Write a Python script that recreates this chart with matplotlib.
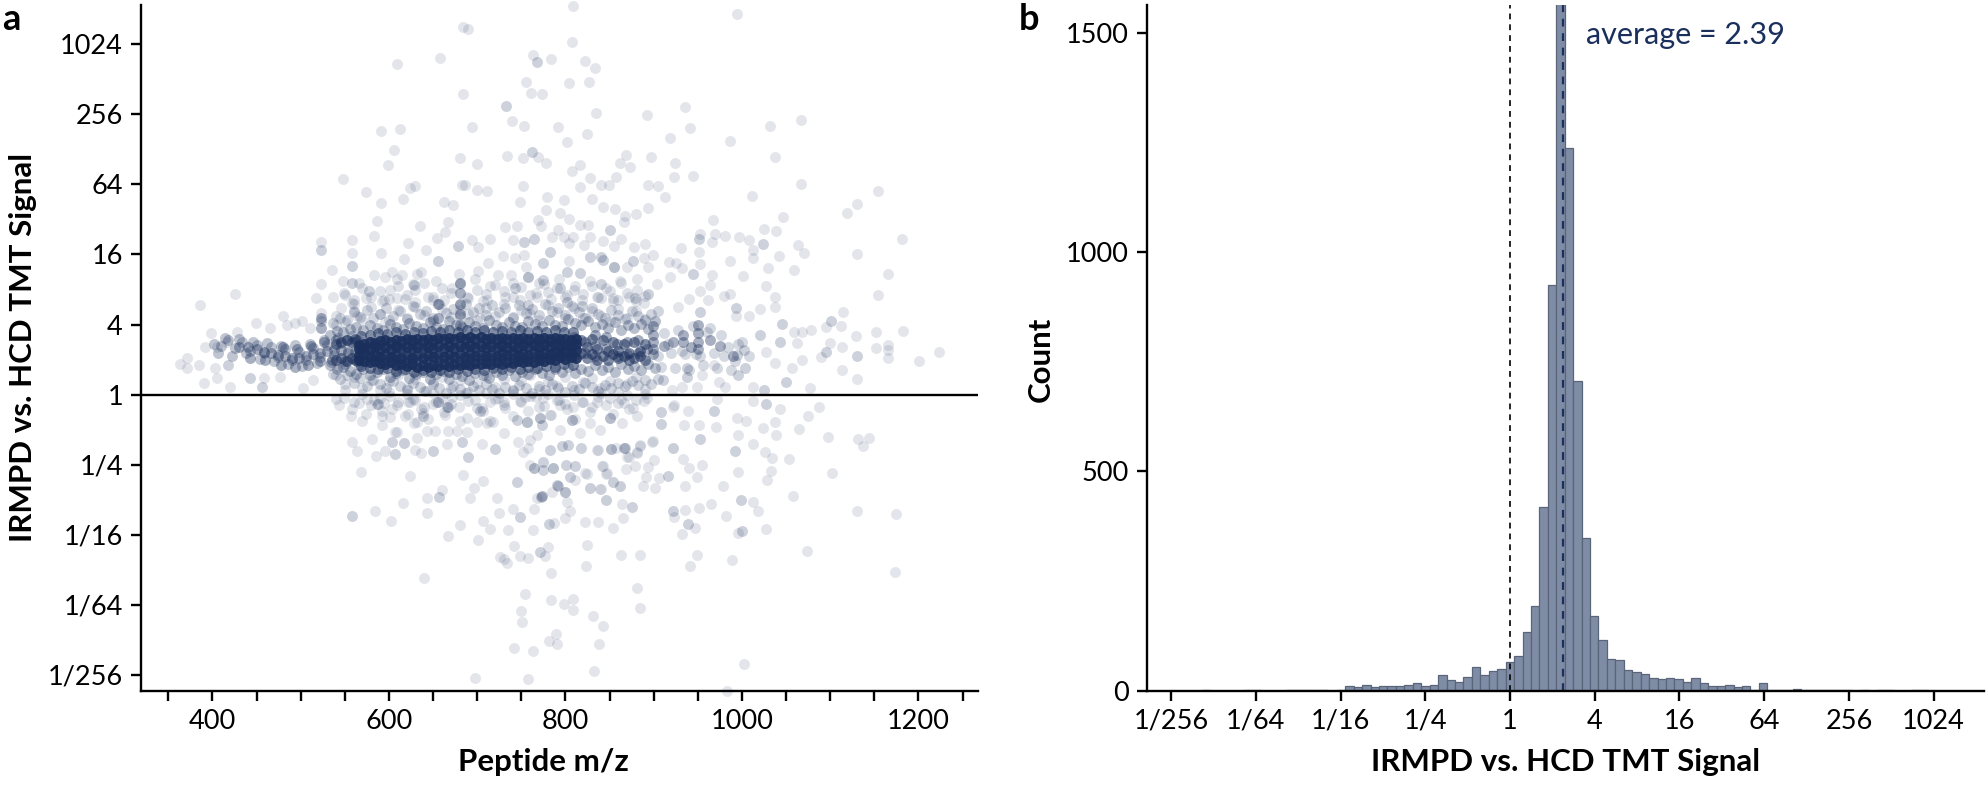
import numpy as np
import matplotlib
matplotlib.use("Agg")
import matplotlib.pyplot as plt

plt.rcParams['font.family'] = ['Lato', 'DejaVu Sans']

navy = '#1a2f5c'

# panel a - single points (m/z, log2 ratio)
top_mz = [684,690,609,658,684,694,591,612,606,599,680,700,548,683,686,630,624,574,591,616,700,711,662,672,587,667,635,583,664,654,558,523,622,694,642,714,701,558,591,617,536,596,615,632,603,548,523,701,712,425,386,517,537]
top_log2 = [10.5,10.44,9.44,9.62,8.59,7.64,7.52,7.58,6.97,6.54,6.74,6.57,6.14,5.98,5.98,5.96,5.89,5.77,5.46,5.57,5.84,5.82,5.51,5.41,4.95,4.94,4.81,4.52,4.63,4.47,4.41,4.37,4.34,4.42,4.13,4.43,4.21,4.03,4.03,3.86,3.55,3.37,3.41,3.44,3.49,3.24,3.17,3.54,3.75,2.87,2.55,2.77,2.78]

right_mz = [808,994,807,763,784,822,834,755,804,827,761,773,835,892,936,739,753,791,824,802,919,941,987,1032,1067,1037,734,752,769,778,869,862,873,897,924,817,807,857,828,923,944,817,840,849,752,893,905,913,1067,1011,1154,1130,1119,1047,779,798,830,748,842,856,894,778,794,880,867,866,967,769,804,817,826,772,745,732,1025,1039,953,970,981,997,1008,1064,1070,1181,791,785,741,798,808,828,842,863,890,878,931,966,1013,1013,1042,1130,1166,1154,899,889,855,821,804,753,755,743,729,804,870,855,894,917,925,932,953,951,987,1030,1059,1001,1027,1037,1038,987,980,966,918,881,862,738,904,964,953,854,836,768,940,962,927,993,1020,1008,1115,1095,1112,1059,1068,1078,1152,1183,1129,1113,1100,1090,1062,1152,1165,1165,1166,1223,1201,1068,1057,1038,1027,1113,1130,1077,1013,974,981,968,955,949,932,921]
right_log2 = [11.08,10.85,10.06,9.7,9.57,9.52,9.31,8.91,8.88,8.93,8.62,8.58,8.05,7.97,8.2,7.81,7.68,7.65,7.45,7.21,7.32,7.61,7.25,7.66,7.84,6.79,6.82,6.76,6.77,6.6,6.85,6.6,6.49,6.78,6.61,6.56,6.38,6.2,6.19,6.21,6.23,5.92,5.98,5.98,5.94,5.98,5.96,5.65,6.0,5.66,5.82,5.45,5.18,5.08,5.63,5.56,5.59,5.49,5.36,5.3,5.34,5.27,5.18,5.16,5.1,4.94,4.97,4.99,5.0,4.84,4.85,4.81,4.8,4.78,4.74,4.68,4.59,4.58,4.54,4.51,4.41,4.27,4.04,4.44,4.7,4.51,4.4,4.49,4.51,4.49,4.39,4.43,4.3,4.22,4.18,4.35,4.13,3.89,3.97,4.01,3.45,2.83,3.98,3.89,4.25,4.27,4.32,3.99,3.65,3.89,3.97,3.8,3.65,3.65,3.63,3.78,3.75,3.61,3.72,4.08,3.82,3.62,3.57,3.39,3.11,2.8,2.49,2.87,2.82,3.4,3.37,3.3,3.23,3.42,3.15,3.13,2.96,2.75,2.8,2.8,2.73,2.7,2.51,2.23,2.45,2.23,2.35,1.94,1.97,1.8,1.8,1.85,1.78,1.82,1.66,1.35,1.48,1.06,1.48,1.34,1.42,1.26,1.04,1.23,0.96,0.99,0.77,0.91,1.23,0.7,0.45,0.18,0.23,0.37,0.23,0.85,0.56,0.23,0.23,0.13]

left_mz = [560,546,594,609,630,523,480,449,501,564,596,650,711,650,681,703,484,494,511,465,428,398,392,363,371,371,385,390,403,405,420,405,416,477,503,514,543,458,543,557,570,558,564,581,568,624,585,596,630,636,617,632,666,705,684,707,696,660,643,692,722,616,643,584,602,680,667,706,714,701,725,726,640,698]
left_log2 = [2.59,2.47,2.7,2.75,2.63,2.32,2.23,2.04,2.11,2.23,2.08,2.7,2.7,2.13,2.42,2.18,1.99,2.04,1.89,1.89,1.8,1.75,1.37,0.88,1.04,0.77,0.85,0.32,0.75,0.47,0.23,1.37,1.51,0.51,0.18,0.42,0.8,0.47,-0.29,-0.6,-0.76,-1.36,-1.62,-1.28,-2.22,-2.31,-1.76,-1.6,-1.58,-1.67,-1.38,-1.25,-1.41,-1.41,-2.29,-2.47,-2.67,-2.71,-2.96,-2.96,-2.95,-3.1,-3.38,-3.33,-3.61,-3.72,-4.04,-3.62,-3.83,-4.15,-3.38,-4.64,-5.22,-8.1]

low_mz = [923,939,972,971,934,951,994,1005,1013,1043,1037,1024,1039,1065,1075,1087,996,1012,1026,1034,1053,1098,1131,1144,1137,1102,1033,1028,995,955,933,940,922,899,885,857,837,881,872,900,894,879,869,891,906,902,888,936,949,979,965,951,936,923,982,1012,1018,1058,1027,995,947,932,1130,1175,1074,989,949,941,1174,881,884,884,863,824,823,865,864,846,862,854,840,828,824,842,846,837,854,822,799,787,805,764,802,741,763,735,742,749,757,730,734,777,780,784,754,750,751,784,798,809,808,831,843,789,781,790,838,742,763,832,758,1002,983]
low_log2 = [-0.31,-0.46,-0.12,-0.93,-0.88,-0.87,-0.67,-0.74,-0.17,-0.41,-0.79,-0.96,-1.15,-0.98,-0.6,-0.36,-1.15,-1.41,-1.65,-1.81,-1.83,-1.22,-1.27,-1.23,-1.48,-2.25,-2.19,-2.43,-2.22,-2.01,-1.84,-2.09,-1.53,-1.33,-1.46,-1.53,-1.57,-1.65,-1.79,-1.86,-2.07,-2.05,-2.12,-2.36,-2.39,-2.67,-2.6,-2.6,-2.36,-2.62,-3.12,-3.24,-3.28,-3.5,-3.45,-3.07,-3.33,-2.88,-3.83,-3.96,-3.81,-3.98,-3.32,-3.41,-4.45,-4.71,-4.58,-4.9,-5.07,-5.52,-6.09,-4.57,-4.57,-4.3,-4.88,-3.53,-3.12,-3.01,-2.6,-2.5,-2.69,-2.66,-2.26,-2.03,-2.26,-3.64,-3.82,-3.64,-3.53,-3.67,-3.31,-3.26,-3.07,-3.26,-3.85,-3.87,-4.31,-4.6,-4.66,-4.69,-4.81,-4.61,-4.36,-5.1,-5.69,-6.17,-6.48,-5.85,-5.98,-5.83,-6.15,-6.32,-6.6,-6.83,-7.04,-7.12,-7.12,-7.24,-7.33,-7.88,-8.13,-7.7,-8.45]

near_mz = [575,586,592,601,609,603,622,632,643,652,681,667,700,718,715,677,688,622,650,594,592,607,617,746,752,758,764,760,786,760,800,811,773,785,768,836,822,841,847,854,862,828,839,846,852,881,885,898,922,870,624,639,656,664,705,730,756,771,754,775,794,809,783,807,828,836,851,866,864,877,892,922,768,794,839,817,730,711,628]
near_log2 = [-0.12,-0.27,-0.6,-0.65,-1.08,-0.41,-0.22,-0.79,-1.03,-1.03,-0.74,-1.03,-0.79,-0.79,-0.22,-1.03,-1.08,-0.55,-0.27,-0.25,-0.87,-1.06,-1.37,-1.34,-1.63,-1.53,-2.1,-2.01,-2.1,-1.3,-2.77,-2.45,-2.89,-2.77,-2.96,-1.58,-2.25,-2.04,-2.25,-2.48,-2.61,-2.67,-2.7,-3.01,-1.56,-1.67,-1.44,-1.34,-1.53,-1.77,-0.2,-0.53,-0.2,-0.58,-0.39,-0.2,-0.77,-0.67,-0.06,-0.1,-0.29,-0.34,-0.58,-0.72,-0.82,-0.2,-0.67,-0.25,-0.82,-0.39,-0.1,-0.34,-1.15,-1.01,-1.01,-1.1,-1.1,-0.82,-0.82]

# places where several points sit on top of each other, drawn darker
clump_mz = [768,733,762,851,951,1024,764,753,783,774,840,828,843,877,855,945,840,817,802,775,757,894,879,819,802,794,743,758,953,993,1101,1045,1021,1095,1043,1130,1050,1025,1004,996,994,1002,938,938,911,908,908,968,1027,953,992,922,866,875,781,772,791,799,749,771,999,1000,939,916,523,523,678,558,558,655,577,628,418,442,456,607,650,683,690,720,558,657,604,588,639,666,703,775,764,786,775,783,796,803,818,801,811,805,790,773,852,868,745,667,656,745,756,771,773,851,807]
clump_log2 = [9.49,8.23,6.93,4.69,4.45,4.29,4.45,4.37,4.08,3.75,3.94,3.94,3.84,3.8,3.65,3.44,3.16,3.46,3.51,3.27,3.37,2.87,2.75,2.53,2.65,3.04,3.04,2.56,2.37,2.46,2.11,2.02,1.7,1.23,1.51,1.09,0.36,0.13,0.75,0.56,1.13,1.28,0.75,0.51,0.42,-0.49,-0.84,-0.46,-0.27,-1.27,-1.6,-3.31,-1.53,-3.22,-3.69,-2.91,-2.6,-2.79,-3.5,-4.5,-3.0,-3.9,-3.69,-2.33,4.13,2.11,4.24,3.67,3.18,3.8,2.96,3.13,0.85,0.47,0.23,-1.7,-1.6,-1.34,-1.79,-1.55,-3.45,-2.91,-1.36,-0.27,-0.6,-0.36,-0.46,-2.15,-2.1,-2.1,-1.91,-1.58,-1.48,-1.44,-1.53,-2.01,-2.05,-2.34,-2.58,-2.89,-1.56,-1.53,-2.48,-0.34,-0.2,-0.72,-0.77,-0.67,-0.87,-0.67,-0.72]

# dense part of the cloud, estimated from how dark it is at each m/z
haze_mz = [540,550,560,570,580,590,600,610,620,630,640,650,660,670,680,690,700,710,720,730,740,750,760,770,780,790,800,810,820,830,840,850,860,870,880,890]
haze_a = [2.25,2.08,2.4,2.15,2.5,2.3,2.12,2.42,2.2,2.5,2.28,2.1,2.45,2.22,2.55,2.3,2.12,2.48,2.25,2.6,2.18,2.42,2.3,2.12,2.55,2.35,2.2,2.48,2.18,2.4,2.25,2.1,2.45,2.2,2.38,2.15]
haze_b = [1.98,2.85,2.7,3.05,2.8,2.95,2.72,3.1,2.85,2.98,3.2,2.8,3.05,2.9,3.15,2.75,3.0,2.88,3.12,2.95,2.78,3.08,2.85,3.18,2.92,3.05,2.78,3.0,2.86,3.1,2.75,2.95,2.7,2.9,2.68,2.82]
haze_c = [0.55,0.3,0.5,0.2,0.42,0.12,0.38,0.55,0.2,0.45,0.1,0.35,0.5,0.18,0.42,0.08,0.32,0.52,0.22,0.45,0.1,0.38,0.55,0.15,0.4,0.25,0.5,0.12,0.35,0.48,0.2,0.4,0.08,0.3,0.5,0.15]
haze_d = [-0.12,0.12,-0.2,0.02,-0.3,-0.1,0.08,-0.22,0.02,-0.15,-0.35,0.05,-0.1,-0.28,0.0,-0.18,-0.38,0.05,-0.12,-0.3,0.02,-0.22,-0.05,-0.35,0.03,-0.15,-0.28,0.0,-0.2,-0.35,0.04,-0.1,-0.25,0.0,-0.15,0.02]

soft_mz = [533,541,548,556,563,571,578,586,593,601,608,616,623,631,638,646,653,661,668,676,683,691,698,706,713,721,728,736,743,751,758,766,773,781,788,796,803,811,818,826,833,841,848,856,863,871,878,886,893,901]
soft_up = [1.7,1.82,1.78,1.88,1.92,1.85,1.98,1.9,1.84,2.02,1.93,1.87,2.05,1.96,1.9,2.08,1.94,1.88,2.1,2.0,1.92,2.06,1.95,1.9,2.12,2.0,1.94,2.08,1.97,1.92,2.1,2.02,1.95,2.12,2.0,1.96,2.15,2.05,1.98,2.1,1.92,2.02,1.9,2.06,1.85,1.98,1.9,2.02,1.88,2.1]
soft_dn = [0.85,0.72,0.8,0.68,0.6,0.74,0.56,0.66,0.72,0.5,0.62,0.7,0.48,0.6,0.66,0.44,0.58,0.68,0.46,0.6,0.52,0.42,0.62,0.55,0.48,0.64,0.56,0.7,0.52,0.66,0.6,0.74,0.62,0.55,0.72,0.65,0.8,0.62,0.74,0.68,0.84,0.7,0.78,0.66,0.86,0.74,0.82,0.7,0.88,0.76]
soft2_mz = [537,545,552,560,567,575,582,590,597,605,612,620,627,635,642,650,657,665,672,680,687,695,702,710,717,725,732,740,747,755,762,770,777,785,792,800,807,815,822,830,837,845,852,860,867,875,882,890,897,905]
soft2_up = [2.05,2.2,2.12,2.35,2.22,2.42,2.18,2.3,2.48,2.25,2.38,2.16,2.52,2.3,2.4,2.2,2.58,2.32,2.45,2.24,2.6,2.35,2.46,2.26,2.55,2.36,2.48,2.22,2.56,2.34,2.44,2.26,2.6,2.38,2.48,2.28,2.52,2.36,2.2,2.46,2.3,2.18,2.42,2.28,2.16,2.38,2.24,2.12,2.3,2.4]
soft2_dn = [0.6,0.45,0.55,0.34,0.48,0.25,0.42,0.3,0.18,0.38,0.26,0.14,0.34,0.22,0.1,0.3,0.2,0.06,0.26,0.16,0.04,0.24,0.12,0.3,0.16,0.05,0.22,0.12,0.28,0.18,0.06,0.24,0.14,0.3,0.2,0.08,0.26,0.16,0.32,0.22,0.1,0.28,0.18,0.34,0.24,0.38,0.28,0.42,0.3,0.46]
soft3_mz = [549,558,566,574,583,592,601,609,618,627,636,644,653,662,671,679,688,697,706,714,723,732,741,749,758,767,776,784,793,802,811,819,828,837,846,854,863,872,881,889]
soft3_up = [2.9,2.62,3.2,2.75,3.4,2.68,3.0,3.3,2.72,3.15,3.5,2.8,3.25,2.7,3.05,3.45,2.78,3.3,2.66,3.1,3.4,2.8,3.2,2.7,3.35,2.9,3.15,2.72,3.3,2.85,3.1,2.7,3.25,2.8,3.05,2.66,3.2,2.78,3.0,2.62]
soft3_dn = [-0.1,-0.4,-0.25,-0.55,-0.15,-0.48,-0.05,-0.3,-0.62,-0.12,-0.42,-0.7,-0.2,-0.5,-0.08,-0.36,-0.66,-0.16,-0.46,-0.75,-0.1,-0.38,-0.6,-0.18,-0.48,-0.08,-0.32,-0.58,-0.14,-0.42,-0.7,-0.2,-0.5,-0.08,-0.3,-0.56,-0.12,-0.4,-0.62,-0.18]

mid_mz = [430,440,450,458,466,474,482,490,498,506,514,522,530,538,546,554,562,442,460,478,494,508,522,536,550,564,480,496,512,526,540,552,564,810,810,810,822,822,834,834,834,846,846,858,858,870,870,882,882,892,899,899,899,899,899,912,922,933,933,942,950,950,950,950,964,975,990,681,681,681,681,681,655,655,523,523]
mid_log2 = [1.35,1.35,1.3,1.22,1.18,1.12,1.1,1.05,1.05,1.1,1.15,1.2,1.25,1.27,1.27,1.25,1.22,1.05,1.0,0.85,0.8,0.85,0.95,1.0,0.95,0.95,1.35,1.3,1.4,1.5,1.55,1.55,1.55,1.1,1.4,1.65,1.2,1.5,1.1,1.4,1.7,1.3,1.65,1.1,1.45,1.15,1.5,1.2,1.55,1.3,1.3,1.5,1.7,1.95,1.15,1.4,1.5,1.5,1.7,1.35,1.5,1.75,2.0,1.3,1.55,1.4,1.1,2.0,2.3,2.6,2.9,3.2,2.2,2.6,1.9,2.2]

# band left of the dark core, m/z 400-570
lead_mz = [402,410,418,426,434,442,450,458,466,474,482,490,498,506,514,522,530,538,546,554,562,406,414,422,430,438,446,454,462,470,478,486,494,502,510,518,526,534,542,550,558,566]
lead_a = [1.45,1.4,1.55,1.32,1.5,1.25,1.42,1.18,1.36,1.08,1.3,1.0,1.22,0.98,1.32,1.08,1.42,1.12,1.46,1.18,1.5,1.18,1.62,1.1,1.6,1.2,1.5,1.02,1.48,0.95,1.4,0.88,1.42,0.82,1.45,0.9,1.55,0.92,1.62,0.88,1.66,0.85]

# ends and edges of the dark core
taper_mz = [818,824,830,836,842,848,854,860,866,872,878,884,890,818,824,830,836,842,848,854,860,866,872,878,884,890,540,546,552,558,562,540,546,552,558,562]
taper_log2 = [1.55,1.35,1.6,1.3,1.55,1.25,1.5,1.25,1.45,1.2,1.5,1.25,1.45,1.2,1.05,1.15,1.0,1.1,1.0,1.15,1.05,1.1,1.0,1.05,1.1,1.0,1.45,1.5,1.55,1.5,1.6,1.0,1.05,0.95,1.05,1.0]
edge_mz = [568,578,588,598,608,618,628,638,648,658,668,678,688,698,708,718,728,738,748,758,768,778,788,798,808]
edge_up = [1.66,1.7,1.76,1.72,1.78,1.74,1.8,1.76,1.82,1.78,1.84,1.78,1.84,1.8,1.84,1.78,1.82,1.8,1.84,1.78,1.82,1.8,1.84,1.78,1.8]
edge_dn = [0.82,0.76,0.72,0.76,0.68,0.72,0.66,0.7,0.64,0.7,0.66,0.72,0.68,0.72,0.7,0.76,0.72,0.78,0.74,0.8,0.76,0.82,0.8,0.86,0.84]
far_mz = [905,912,920,928,936,944,952,960,968,976,984,992,1000,1008,908,916,924,932,940,948,956,964,972,980,988,996]
far_log2 = [1.1,1.75,1.2,1.85,1.15,1.95,1.1,1.8,1.2,1.7,1.35,0.95,1.5,1.1,0.8,1.45,0.75,1.25,0.7,1.15,0.85,1.9,0.75,1.1,0.7,1.45]

core_mz = [566,572,578,584,590,596,602,608,614,620,626,632,638,644,650,656,662,668,674,680,686,692,698,704,710,716,722,728,734,740,746,752,758,764,770,776,782,788,794,800,806,812]
core_1 = [1.0,0.95,0.92,0.97,0.9,0.86,0.92,0.84,0.88,0.82,0.86,0.8,0.85,0.8,0.84,0.82,0.86,0.82,0.87,0.84,0.88,0.85,0.9,0.86,0.9,0.88,0.92,0.88,0.93,0.9,0.95,0.92,0.97,0.94,1.0,0.97,1.03,1.0,1.06,1.02,1.08,1.05]
core_2 = [1.12,1.15,1.1,1.14,1.08,1.12,1.06,1.1,1.05,1.1,1.04,1.09,1.05,1.1,1.06,1.1,1.06,1.12,1.07,1.12,1.08,1.13,1.09,1.14,1.1,1.14,1.1,1.15,1.12,1.16,1.12,1.17,1.14,1.18,1.15,1.2,1.17,1.22,1.2,1.24,1.22,1.26]
core_3 = [1.3,1.34,1.3,1.36,1.31,1.36,1.3,1.36,1.32,1.37,1.32,1.36,1.33,1.37,1.33,1.38,1.34,1.38,1.34,1.38,1.35,1.39,1.35,1.39,1.36,1.4,1.36,1.4,1.37,1.4,1.37,1.41,1.38,1.41,1.38,1.42,1.39,1.42,1.4,1.43,1.4,1.44]
core_4 = [1.42,1.45,1.5,1.47,1.52,1.55,1.5,1.56,1.53,1.58,1.55,1.6,1.56,1.6,1.57,1.62,1.58,1.62,1.6,1.64,1.6,1.65,1.6,1.64,1.6,1.63,1.6,1.63,1.6,1.62,1.6,1.63,1.6,1.63,1.6,1.62,1.6,1.62,1.58,1.6,1.56,1.58]

xtick_vals = [350,400,450,500,550,600,650,700,750,800,850,900,950,1000,1050,1100,1150,1200,1250]
xtick_text = ['','400','','','','600','','','','800','','','','1000','','','','1200','']
log2_ticks = [-8,-6,-4,-2,0,2,4,6,8,10]
log2_text = ['1/256','1/64','1/16','1/4','1','4','16','64','256','1024']

# panel b - histogram of log2 ratio, bins are 0.2 wide
hist_counts = [0,0,0,2,0,0,0,0,2,2,0,0,0,1,1,2,2,1,0,2,11,8,14,8,11,11,11,14,18,11,12,36,25,20,32,55,36,46,50,65,
               80,133,192,418,924,1600,1238,706,348,170,115,73,70,48,43,38,30,27,30,27,20,30,17,11,11,14,8,11,2,17,
               1,1,2,4,2,1,1,1,2,1,0,1,0,1,1,0,0,1,1,0]
first_edge = -7.878
bin_width = 0.1993
average = 2.39

W, H = 1986, 789
fig = plt.figure(figsize=(W / 100, H / 100), dpi=100)
ax = fig.add_axes([141 / W, (H - 690.7) / H, 837 / W, 685.7 / H])
ax2 = fig.add_axes([1146.7 / W, (H - 690.7) / H, 837.3 / W, 685.7 / H])

size = 62
for xs, ys in [(top_mz, top_log2), (right_mz, right_log2), (left_mz, left_log2), (low_mz, low_log2), (near_mz, near_log2)]:
    ax.scatter(xs, ys, s=size, color=navy, alpha=0.12, linewidths=0, clip_on=False)
ax.scatter(clump_mz, clump_log2, s=size, color=navy, alpha=0.22, linewidths=0)
for ys in [haze_a, haze_b, haze_c, haze_d]:
    ax.scatter(haze_mz, ys, s=size, color=navy, alpha=0.14, linewidths=0)
for xs, ys in [(soft_mz, soft_up), (soft_mz, soft_dn)]:
    ax.scatter(xs, ys, s=size, color=navy, alpha=0.3, linewidths=0)
for xs, ys in [(soft2_mz, soft2_up), (soft2_mz, soft2_dn)]:
    ax.scatter(xs, ys, s=size, color=navy, alpha=0.2, linewidths=0)
for xs, ys in [(soft3_mz, soft3_up), (soft3_mz, soft3_dn)]:
    ax.scatter(xs, ys, s=size, color=navy, alpha=0.13, linewidths=0)
ax.scatter(lead_mz, lead_a, s=size, color=navy, alpha=0.28, linewidths=0)
ax.scatter(far_mz, far_log2, s=size, color=navy, alpha=0.18, linewidths=0)
ax.scatter(mid_mz, mid_log2, s=size, color=navy, alpha=0.38, linewidths=0)
ax.scatter(taper_mz, taper_log2, s=size, color=navy, alpha=0.55, linewidths=0)
for ys in [edge_up, edge_dn]:
    ax.scatter(edge_mz, ys, s=size, color=navy, alpha=0.55, linewidths=0)
for ys in [core_1, core_2, core_3, core_4]:
    ax.scatter(core_mz, ys, s=size, color=navy, alpha=0.9, linewidths=0)
ax.axhline(0, color='black', lw=1.7, zorder=5)

ax.set_xlim(319, 1267.5)
ax.set_ylim(-8.45, 11.12)
ax.set_xticks(xtick_vals)
ax.set_xticklabels(xtick_text)
ax.set_yticks(log2_ticks)
ax.set_yticklabels(log2_text)
ax.set_xlabel('Peptide m/z', fontsize=22.5, fontweight='bold')
ax.set_ylabel('IRMPD vs. HCD TMT Signal', fontsize=22.5, fontweight='bold')
ax.xaxis.set_label_coords(0.481, -0.083)
ax.yaxis.set_label_coords(-0.124, 0.5)

edges = first_edge + bin_width * np.arange(len(hist_counts))
ax2.bar(edges, hist_counts, width=bin_width, align='edge', color='#7f8ca5', edgecolor='#5a6579', linewidth=0.9)
ax2.axvline(0, color='black', lw=1.2, ls=(0, (3.5, 3)))
ax2.axvline(np.log2(average), color=navy, lw=1.6, ls=(0, (3.5, 3)))
ax2.text(1.79, 1495, 'average = 2.39', color=navy, fontsize=22, va='center', ha='left')
ax2.set_xlim(-8.58, 11.19)
ax2.set_ylim(0, 1563)
ax2.set_xticks(log2_ticks)
ax2.set_xticklabels(log2_text)
ax2.set_yticks([0, 500, 1000, 1500])
ax2.set_xlabel('IRMPD vs. HCD TMT Signal', fontsize=22.5, fontweight='bold')
ax2.set_ylabel('Count', fontsize=22.5, fontweight='bold')
ax2.xaxis.set_label_coords(0.5, -0.083)
ax2.yaxis.set_label_coords(-0.11, 0.484)

for a in [ax, ax2]:
    a.spines['top'].set_visible(False)
    a.spines['right'].set_visible(False)
    a.spines['left'].set_linewidth(1.7)
    a.spines['bottom'].set_linewidth(1.7)
    a.tick_params(length=7, width=1.7, labelsize=19.5, pad=6, color='black')

fig.text(2 / W, 1 - 19 / H, 'a', fontsize=26, fontweight='bold', va='center')
fig.text(1019 / W, 1 - 20 / H, 'b', fontsize=26, fontweight='bold', va='center')

fig.savefig('out.png', dpi=100)
